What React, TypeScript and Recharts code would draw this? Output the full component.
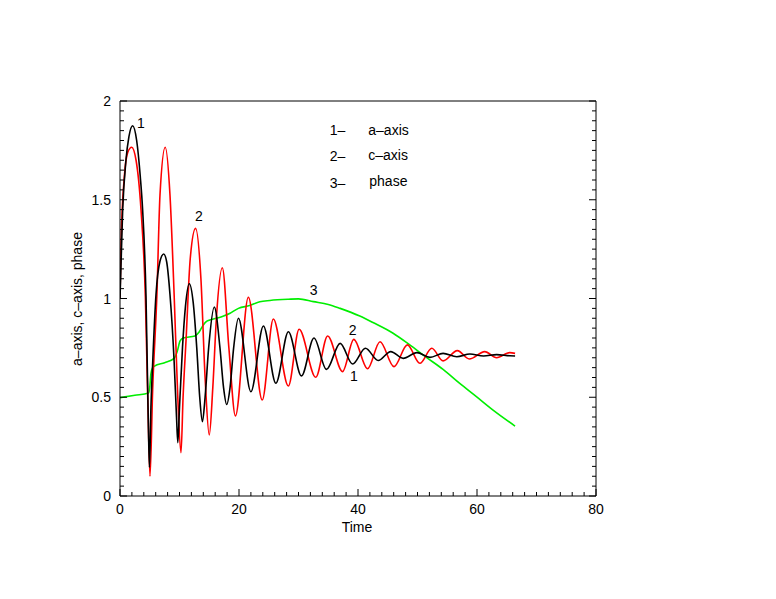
import React from 'react';
import { LineChart, Line, XAxis, YAxis, ReferenceDot, Label } from 'recharts';

// a-axis (curve 1, black)
const aTime = [0, 0.45, 1.0, 1.5, 2.13, 2.8, 3.4, 3.8, 4.37, 4.76, 4.95, 5.2, 5.5, 6.05, 6.7, 7.35, 7.84, 8.4, 9.1, 9.5, 9.72, 10.0, 10.5, 11.0, 11.65, 12.3, 12.9, 13.4, 13.85, 14.3, 14.9, 15.85, 16.8, 17.4, 17.93, 18.5, 19.1, 19.9, 22.0, 24.1, 26.2, 28.3, 30.5, 32.6, 34.7, 37.0, 39.1, 41.25, 43.4, 45.5, 47.6, 49.9, 52.1, 54.3, 56.6, 58.8, 61.1, 63.3, 65.5, 66.4];
const aValue = [1.0, 1.45, 1.70, 1.82, 1.875, 1.80, 1.62, 1.45, 1.01, 0.37, 0.145, 0.45, 0.68, 1.02, 1.186, 1.225, 1.186, 1.02, 0.68, 0.4, 0.27, 0.45, 0.75, 0.96, 1.075, 0.98, 0.75, 0.5, 0.376, 0.5, 0.75, 0.957, 0.75, 0.55, 0.463, 0.55, 0.75, 0.90, 0.528, 0.861, 0.571, 0.832, 0.608, 0.80, 0.641, 0.773, 0.668, 0.748, 0.686, 0.731, 0.697, 0.726, 0.702, 0.722, 0.705, 0.719, 0.709, 0.716, 0.71, 0.709];

// c-axis (curve 2, red)
const cTime = [0, 0.17, 0.73, 1.3, 1.96, 2.7, 3.53, 4.26, 4.7, 5.04, 5.49, 6.2, 6.72, 7.6, 8.4, 9.1, 9.7, 10.25, 10.6, 11.1, 11.8, 12.7, 13.6, 14.3, 15.0, 15.6, 16.2, 17.2, 18.3, 19.4, 21.57, 23.9, 25.77, 28.3, 30.1, 32.9, 34.9, 37.4, 39.3, 41.6, 43.7, 46.05, 48.3, 50.4, 52.4, 54.3, 56.7, 58.7, 61.3, 63.3, 65.5, 66.4];
const cValue = [1.0, 1.28, 1.617, 1.74, 1.766, 1.70, 1.45, 1.01, 0.45, 0.10, 0.54, 1.018, 1.524, 1.766, 1.524, 1.018, 0.51, 0.219, 0.5, 0.79, 1.2, 1.355, 1.1, 0.6, 0.309, 0.55, 0.9, 1.156, 0.75, 0.405, 1.006, 0.486, 0.896, 0.557, 0.844, 0.601, 0.81, 0.63, 0.793, 0.644, 0.781, 0.655, 0.765, 0.672, 0.748, 0.684, 0.736, 0.694, 0.731, 0.70, 0.726, 0.722];

// phase (curve 3, green)
const phaseTime = [0, 2.5, 4.8, 5.0, 5.2, 5.5, 5.8, 7.5, 9.1, 9.6, 10.1, 10.6, 12.6, 13.3, 14.0, 14.6, 15.1, 17.1, 18.5, 19.3, 19.9, 21.8, 23.5, 25.2, 28.3, 30.0, 32.5, 35.0, 37.0, 40.3, 42.6, 45.9, 48.7, 51.5, 54.3, 57.1, 59.9, 62.7, 66.4];
const phaseValue = [0.498, 0.51, 0.522, 0.55, 0.62, 0.65, 0.658, 0.675, 0.697, 0.73, 0.785, 0.80, 0.81, 0.83, 0.866, 0.885, 0.891, 0.908, 0.925, 0.94, 0.95, 0.964, 0.984, 0.99, 0.996, 0.998, 0.984, 0.97, 0.95, 0.911, 0.877, 0.824, 0.765, 0.702, 0.641, 0.57, 0.503, 0.435, 0.354];

const xMajorTicks = [0, 20, 40, 60, 80];
const xTickLabels = ['0', '20', '40', '60', '80'];
const yMajorTicks = [0, 0.5, 1, 1.5, 2];
const yTickLabels = ['0', '0.5', '1', '1.5', '2'];

const xAllTicks = Array.from({ length: 41 }, (_, i) => i * 2);
const yAllTicks = Array.from({ length: 41 }, (_, i) => Math.round(i * 5) / 100);

const zip = (ts: number[], vs: number[]) => ts.map((t, i) => ({ t, v: vs[i] }));
const aData = zip(aTime, aValue);
const cData = zip(cTime, cValue);
const phaseData = zip(phaseTime, phaseValue);

const FONT = '"Liberation Sans", Arial, Helvetica, sans-serif';
const FS = 14;

// plot area inside the 768x591 chart
const PLOT_LEFT = 112;
const PLOT_TOP = 93;
const PLOT_RIGHT = 588;
const PLOT_BOTTOM = 488;

const majorIndex = (arr: number[], v: number) => arr.findIndex((m) => Math.abs(m - v) < 1e-6);

const BottomTick = (props: any) => {
  const { x, payload } = props;
  const y = PLOT_BOTTOM;
  const idx = majorIndex(xMajorTicks, payload.value);
  const major = idx >= 0;
  return (
    <g>
      <line x1={x} x2={x} y1={y} y2={y - (major ? 7 : 4)} stroke="#000" strokeWidth={1} />
      {major && (
        <text x={x} y={y + 18} textAnchor="middle" fontFamily={FONT} fontSize={FS} fill="#000">
          {xTickLabels[idx]}
        </text>
      )}
    </g>
  );
};

const TopTick = (props: any) => {
  const { x, payload } = props;
  const y = PLOT_TOP;
  const major = majorIndex(xMajorTicks, payload.value) >= 0;
  return <line x1={x} x2={x} y1={y} y2={y + (major ? 7 : 4)} stroke="#000" strokeWidth={1} />;
};

const LeftTick = (props: any) => {
  const { y, payload } = props;
  const x = PLOT_LEFT;
  const idx = majorIndex(yMajorTicks, payload.value);
  const major = idx >= 0;
  return (
    <g>
      <line x1={x} x2={x + (major ? 7 : 4)} y1={y} y2={y} stroke="#000" strokeWidth={1} />
      {major && (
        <text x={x - 9} y={y + 5} textAnchor="end" fontFamily={FONT} fontSize={FS} fill="#000">
          {yTickLabels[idx]}
        </text>
      )}
    </g>
  );
};

const RightTick = (props: any) => {
  const { y, payload } = props;
  const x = PLOT_RIGHT;
  const major = majorIndex(yMajorTicks, payload.value) >= 0;
  return <line x1={x} x2={x - (major ? 7 : 4)} y1={y} y2={y} stroke="#000" strokeWidth={1} />;
};

const YTitle = () => (
  <text
    x={69}
    y={291}
    transform="rotate(-90 69 291)"
    textAnchor="middle"
    dominantBaseline="central"
    fontFamily={FONT}
    fontSize={FS}
    fill="#000"
  >
    a–axis, c–axis, phase
  </text>
);

const XTitle = () => (
  <text x={349} y={524} textAnchor="middle" fontFamily={FONT} fontSize={FS} fill="#000">
    Time
  </text>
);

// annotations: [time, value, text]
const curveLabels: [number, number, string][] = [
  [3.53, 1.891, '1'],
  [13.28, 1.418, '2'],
  [32.56, 1.043, '3'],
  [39.1, 0.84, '2'],
  [39.33, 0.608, '1'],
];
const legendKeys: [number, number, string][] = [
  [36.55, 1.851, '1–'],
  [36.55, 1.722, '2–'],
  [36.55, 1.585, '3–'],
];
const legendNames: [number, number, string][] = [
  [41.73, 1.853, 'a–axis'],
  [41.73, 1.725, 'c–axis'],
  [41.9, 1.594, 'phase'],
];

const textLabel = (value: string, anchor: 'middle' | 'start') => (p: any) => {
  const vb = p.viewBox || {};
  const cx = (vb.x ?? 0) + (vb.width ?? 0) / 2;
  const cy = (vb.y ?? 0) + (vb.height ?? 0) / 2;
  return (
    <text x={cx} y={cy} textAnchor={anchor} dominantBaseline="central" fontFamily={FONT} fontSize={FS} fill="#000">
      {value}
    </text>
  );
};

export default function App() {
  return (
    <div style={{ width: 768, height: 591, fontFamily: FONT }}>
      <LineChart width={768} height={591} margin={{ top: 92, right: 179, bottom: 73, left: 72 }}>
        <XAxis
          dataKey="t"
          type="number"
          domain={[0, 80]}
          ticks={xAllTicks}
          interval={0}
          height={30}
          tickSize={0}
          tickMargin={0}
          tickLine={false}
          axisLine={{ stroke: '#000', strokeWidth: 1 }}
          tick={<BottomTick />}
          allowDataOverflow
        >
          <Label content={<XTitle />} />
        </XAxis>
        <XAxis
          xAxisId="top"
          orientation="top"
          type="number"
          domain={[0, 80]}
          ticks={xAllTicks}
          interval={0}
          height={1}
          tickSize={0}
          tickMargin={0}
          tickLine={false}
          axisLine={{ stroke: '#000', strokeWidth: 1 }}
          tick={<TopTick />}
          allowDataOverflow
        />
        <YAxis
          type="number"
          domain={[0, 2]}
          ticks={yAllTicks}
          interval={0}
          width={40}
          tickSize={0}
          tickMargin={0}
          tickLine={false}
          axisLine={{ stroke: '#000', strokeWidth: 1 }}
          tick={<LeftTick />}
          allowDataOverflow
        >
          <Label content={<YTitle />} />
        </YAxis>
        <YAxis
          yAxisId="right"
          orientation="right"
          type="number"
          domain={[0, 2]}
          ticks={yAllTicks}
          interval={0}
          width={1}
          tickSize={0}
          tickMargin={0}
          tickLine={false}
          axisLine={{ stroke: '#000', strokeWidth: 1 }}
          tick={<RightTick />}
          allowDataOverflow
        />
        <Line data={phaseData} dataKey="v" type="monotone" stroke="#00ee00" strokeWidth={1.6} dot={false} isAnimationActive={false} />
        <Line data={cData} dataKey="v" type="monotone" stroke="#ff0000" strokeWidth={1.6} dot={false} isAnimationActive={false} />
        <Line data={aData} dataKey="v" type="monotone" stroke="#000000" strokeWidth={1.6} dot={false} isAnimationActive={false} />
        {curveLabels.map(([t, v, s], i) => (
          <ReferenceDot key={'c' + i} x={t} y={v} r={0} fill="none" stroke="none" label={textLabel(s, 'middle')} />
        ))}
        {legendKeys.map(([t, v, s], i) => (
          <ReferenceDot key={'k' + i} x={t} y={v} r={0} fill="none" stroke="none" label={textLabel(s, 'middle')} />
        ))}
        {legendNames.map(([t, v, s], i) => (
          <ReferenceDot key={'n' + i} x={t} y={v} r={0} fill="none" stroke="none" label={textLabel(s, 'start')} />
        ))}
      </LineChart>
    </div>
  );
}
